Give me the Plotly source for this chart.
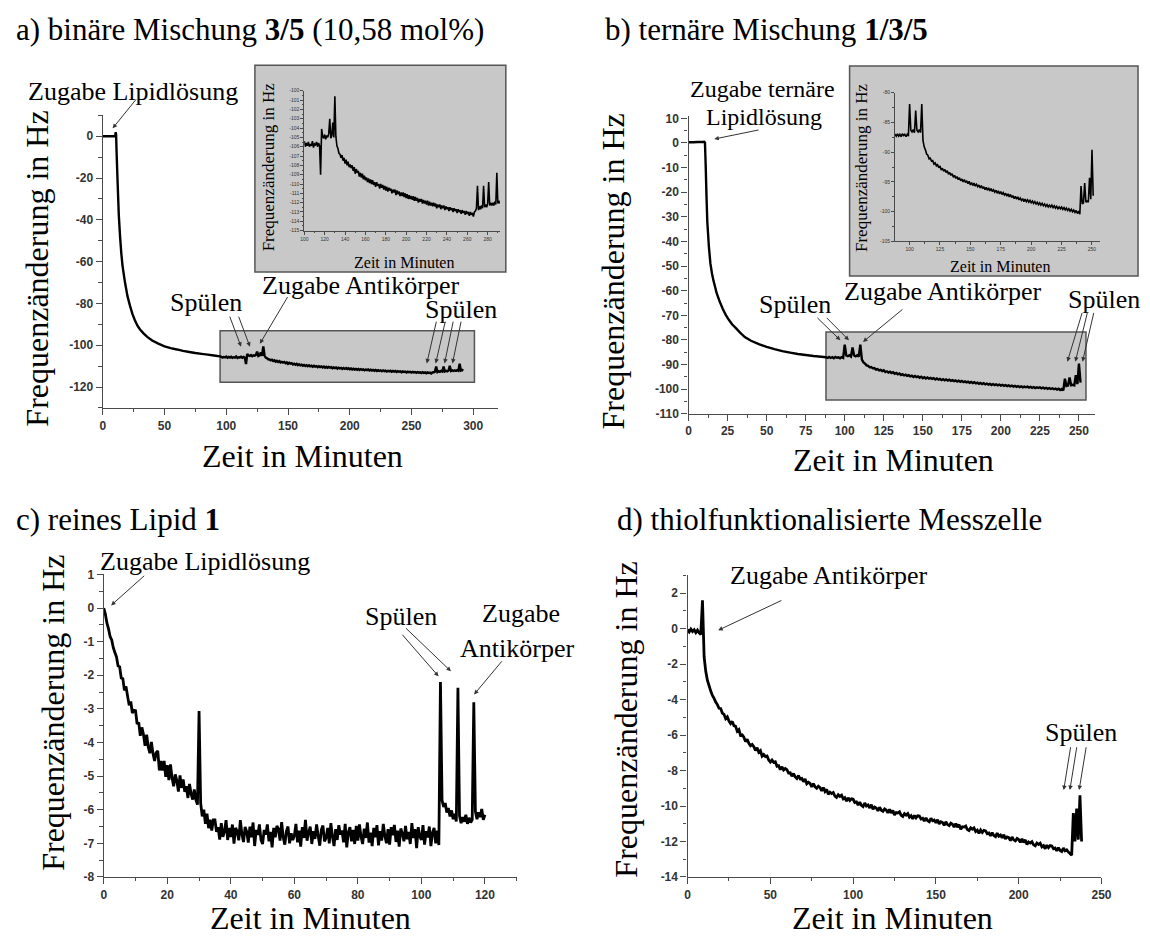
import plotly.graph_objects as go

W, H = 1150, 946

# ---------------- measured frequency traces ----------------
# a) binary mixture 3/5: coarse start, then one reading per minute from t = 96 min
A_T_START = [0, 2, 4, 6, 8, 10, 10.5, 10.8, 11.2, 12, 13, 14, 15, 16, 18, 20,
             22, 24, 26, 28, 30, 33, 36, 40, 45, 50, 55, 60, 65, 70, 75, 80, 85, 90, 95]
A_V_START = [0, 0, 0, 0, 0, 0, 2.0, 0.5, -8, -22, -38, -48, -56, -62, -70, -76.5,
             -81, -85, -88, -90.5, -92.3, -94.3, -96, -97.7, -99.2, -100.5, -101.4, -102,
             -102.7, -103.2, -103.7, -104.1, -104.5, -104.9, -105.3]
A_FINE_T0 = 96
A_V_FINE = [
    -105.5, -105.9, -105.6, -105.8, -105.4, -106.0, -105.6, -105.9, -105.5, -106.0,
    -105.7, -105.9, -105.4, -106.1, -105.7, -105.8, -105.5, -106.0, -105.6, -105.9,
    -109.0, -104.1, -104.9, -105.1, -104.7, -105.2, -104.8, -105.0, -104.6, -103.0,
    -105.1, -104.8, -103.4, -105.0, -100.6, -104.9, -105.9, -106.2, -106.7, -106.8,
    -107.2, -106.9, -107.5, -107.2, -107.8, -107.4, -108.0, -107.6, -108.2, -107.9,
    -108.3, -108.0, -108.6, -108.2, -108.9, -108.4, -108.8, -108.6, -109.2, -108.8,
    -109.3, -108.9, -109.5, -109.1, -109.6, -109.3, -109.8, -109.4, -109.9, -109.5,
    -110.0, -109.6, -110.1, -109.8, -110.3, -109.8, -110.2, -110.0, -110.5, -110.0,
    -110.4, -110.1, -110.6, -110.2, -110.7, -110.3, -110.8, -110.4, -110.7, -110.5,
    -111.0, -110.6, -110.9, -110.6, -111.2, -110.7, -111.1, -110.8, -111.3, -110.9,
    -111.3, -110.9, -111.4, -111.0, -111.5, -111.1, -111.6, -111.2, -111.6, -111.3,
    -111.7, -111.3, -111.8, -111.4, -111.8, -111.5, -112.0, -111.6, -111.9, -111.6,
    -112.1, -111.7, -112.1, -111.8, -112.2, -111.8, -112.3, -111.9, -112.3, -112.0,
    -112.4, -112.0, -112.4, -112.1, -112.6, -112.2, -112.5, -112.2, -112.7, -112.3,
    -112.6, -112.3, -112.8, -112.4, -112.7, -112.5, -112.9, -112.5, -112.8, -112.6,
    -113.0, -112.6, -112.9, -112.7, -113.1, -112.7, -113.0, -112.8, -113.2, -112.8,
    -113.1, -112.9, -113.3, -112.9, -113.2, -113.0, -113.4, -113.0, -113.3, -113.1,
    -113.5, -113.0, -112.9, -112.6, -110.2, -112.8, -112.4, -112.7, -112.3, -112.6,
    -110.2, -112.5, -112.2, -112.5, -112.1, -109.8, -112.3, -112.0, -112.3, -112.0,
    -112.3, -111.9, -112.2, -108.8, -112.1, -111.8, -112.1,
]

# b) ternary mixture 1/3/5: coarse start, then one reading per minute from t = 88 min
B_T_START = [0, 3, 6, 9, 10, 10.5, 11, 11.5, 12, 13, 14, 15, 16, 17, 18, 20, 22,
             24, 26, 28, 30, 33, 36, 40, 45, 50, 55, 60, 65, 70, 75, 80, 85]
B_V_START = [0.3, 0.3, 0.4, 0.4, 0.5, 0.2, -10, -22, -32, -42, -49, -53, -56, -58.5,
             -61, -64.5, -67.5, -70, -72, -73.7, -75, -77, -78.8, -80.3, -81.7, -82.8,
             -83.7, -84.5, -85.1, -85.7, -86.1, -86.5, -86.8]
B_FINE_T0 = 88
B_V_FINE = [
    -87.0, -87.3, -86.9, -87.3, -87.0, -87.4, -86.9, -87.2, -87.0, -87.4,
    -87.0, -87.3, -81.9, -86.3, -86.6, -86.2, -86.7, -83.0, -86.3, -86.6,
    -86.2, -86.7, -81.9, -88.0, -89.1, -89.6, -90.3, -90.5, -91.1, -91.0,
    -91.5, -91.4, -92.0, -91.8, -92.3, -92.1, -92.6, -92.3, -93.0, -92.7,
    -93.2, -92.9, -93.4, -93.1, -93.7, -93.4, -93.9, -93.6, -94.2, -93.9,
    -94.4, -94.1, -94.6, -94.3, -94.8, -94.5, -95.0, -94.6, -95.1, -94.8,
    -95.3, -94.9, -95.5, -95.1, -95.6, -95.2, -95.7, -95.4, -95.8, -95.5,
    -96.0, -95.6, -96.1, -95.8, -96.3, -95.9, -96.4, -96.0, -96.5, -96.1,
    -96.6, -96.3, -96.7, -96.4, -96.9, -96.5, -97.0, -96.6, -97.1, -96.8,
    -97.2, -96.9, -97.4, -97.0, -97.5, -97.1, -97.6, -97.3, -97.8, -97.4,
    -97.9, -97.5, -98.0, -97.7, -98.1, -97.8, -98.3, -97.9, -98.3, -98.0,
    -98.4, -98.1, -98.5, -98.2, -98.6, -98.3, -98.7, -98.4, -98.8, -98.5,
    -98.9, -98.6, -99.0, -98.7, -99.1, -98.8, -99.2, -98.9, -99.2, -98.9,
    -99.3, -99.0, -99.4, -99.1, -99.5, -99.2, -99.5, -99.2, -99.6, -99.3,
    -99.7, -99.4, -99.8, -99.5, -99.9, -99.6, -100.0, -99.7, -100.1, -99.8,
    -100.3, -99.9, -100.4, -95.7, -98.7, -98.5, -95.2, -98.4, -98.2, -98.4,
    -94.3, -97.9, -89.6, -97.3,
]

# c) pure lipid 1: one reading every half minute from t = 0
C_DT = 0.5
C_V = [
    0.0, -0.18, -0.45, -0.62, -0.85, -0.95, -1.18, -1.32, -1.45, -1.72,
    -1.75, -2.08, -2.10, -2.45, -2.33, -2.62, -2.89, -2.78, -3.12, -3.04,
    -3.05, -3.45, -3.40, -3.80, -3.55, -3.76, -4.10, -3.77, -4.13, -4.32,
    -3.98, -4.33, -4.55, -4.30, -4.25, -4.83, -4.55, -4.83, -4.55, -5.02,
    -4.67, -5.12, -4.65, -5.05, -5.30, -4.95, -5.13, -5.46, -4.98, -5.35,
    -5.10, -5.47, -5.30, -5.65, -5.23, -5.53, -5.70, -5.40, -5.70, -5.85,
    -3.06, -5.80, -6.20, -6.00, -6.42, -6.12, -6.55, -6.30, -6.62, -6.30,
    -6.30, -6.66, -6.52, -6.89, -6.40, -6.81, -6.65, -6.31, -6.90, -6.54,
    -6.81, -6.44, -7.01, -6.54, -6.64, -6.91, -6.31, -6.74, -6.96, -6.51,
    -6.65, -6.98, -6.50, -6.82, -6.38, -7.08, -6.60, -6.75, -6.44, -6.90,
    -7.02, -6.60, -6.74, -6.44, -6.94, -6.66, -7.12, -6.54, -6.82, -6.48,
    -6.57, -6.92, -6.37, -6.82, -7.04, -6.64, -6.50, -7.00, -6.70, -6.90,
    -6.77, -6.42, -6.97, -6.62, -7.10, -6.52, -6.84, -6.30, -6.92, -6.67,
    -6.50, -7.02, -6.64, -6.87, -6.44, -6.77, -7.07, -6.60, -6.47, -6.94,
    -6.84, -6.54, -7.00, -6.40, -6.80, -7.08, -6.58, -6.90, -6.46, -6.74,
    -6.62, -6.97, -6.42, -7.12, -6.67, -6.52, -6.94, -6.60, -7.02, -6.48,
    -6.92, -6.44, -6.80, -7.02, -6.56, -6.84, -6.38, -6.98, -6.68, -7.08,
    -6.54, -6.82, -6.46, -7.06, -6.64, -6.92, -6.42, -6.78, -7.00, -6.58,
    -7.04, -6.52, -6.76, -6.45, -6.96, -6.62, -7.10, -6.56, -6.70, -6.94,
    -6.48, -6.88, -6.66, -7.02, -6.40, -6.84, -6.58, -7.14, -6.52, -6.80,
    -6.90, -6.46, -7.04, -6.64, -6.82, -6.50, -7.08, -6.68, -6.54, -7.00,
    -6.62, -7.05, -2.20, -5.72, -5.92, -5.80, -6.08, -5.95, -6.20, -6.02,
    -6.28, -6.12, -6.35, -2.37, -6.18, -6.40, -6.22, -6.36, -6.15, -6.42,
    -6.24, -6.38, -6.30, -2.80, -6.05, -6.28, -6.08, -6.22, -5.98, -6.30,
    -6.15,
]

# d) thiol-functionalised cell: one reading per minute from t = 0
D_DT = 1.0
D_V = [
    -0.05, -0.18, -0.02, -0.16, -0.06, -0.22, -0.08, -0.24, -0.32, 1.60,
    -1.60, -2.42, -2.92, -3.22, -3.52, -3.77, -3.93, -4.14, -4.28, -4.49,
    -4.50, -4.76, -4.83, -5.07, -4.97, -5.21, -5.35, -5.23, -5.47, -5.51,
    -5.78, -5.69, -6.02, -5.99, -6.12, -6.37, -6.24, -6.47, -6.60, -6.53,
    -6.66, -6.87, -6.72, -6.97, -6.88, -7.19, -7.10, -7.21, -7.18, -7.41,
    -7.52, -7.41, -7.54, -7.51, -7.76, -7.73, -7.95, -7.79, -7.97, -7.89,
    -7.95, -8.14, -8.13, -8.32, -8.17, -8.36, -8.45, -8.28, -8.47, -8.44,
    -8.63, -8.48, -8.75, -8.66, -8.73, -8.92, -8.74, -8.92, -9.00, -8.88,
    -8.96, -9.14, -8.96, -9.18, -9.06, -9.34, -9.22, -9.30, -9.24, -9.44,
    -9.52, -9.37, -9.46, -9.39, -9.60, -9.53, -9.72, -9.54, -9.69, -9.59,
    -9.62, -9.80, -9.77, -9.95, -9.78, -9.96, -10.03, -9.83, -10.00, -9.94,
    -10.11, -9.93, -10.18, -10.06, -10.11, -10.27, -10.07, -10.24, -10.30, -10.17,
    -10.23, -10.39, -10.19, -10.39, -10.25, -10.51, -10.37, -10.39, -10.33, -10.53,
    -10.59, -10.43, -10.51, -10.43, -10.63, -10.55, -10.73, -10.53, -10.67, -10.55,
    -10.57, -10.73, -10.69, -10.85, -10.67, -10.83, -10.89, -10.69, -10.83, -10.79,
    -10.95, -10.77, -11.01, -10.89, -10.93, -11.09, -10.89, -11.05, -11.11, -10.97,
    -11.03, -11.19, -10.99, -11.19, -11.05, -11.31, -11.17, -11.19, -11.13, -11.33,
    -11.39, -11.23, -11.31, -11.24, -11.44, -11.36, -11.54, -11.35, -11.49, -11.37,
    -11.40, -11.56, -11.52, -11.68, -11.51, -11.67, -11.73, -11.53, -11.70, -11.64,
    -11.80, -11.62, -11.86, -11.74, -11.78, -11.95, -11.75, -11.91, -11.97, -11.83,
    -11.89, -12.05, -11.85, -12.05, -11.91, -12.17, -12.03, -12.09, -12.01, -12.19,
    -12.25, -12.09, -12.17, -12.10, -12.30, -12.23, -12.41, -12.21, -12.35, -12.23,
    -12.25, -12.41, -12.37, -12.53, -12.35, -12.51, -12.57, -12.37, -12.53, -12.47,
    -12.60, -12.68, -12.78, -10.40, -12.00, -10.15, -11.90, -9.40, -12.00,
]

# tick positions per axis
A_XTICKS = [0, 50, 100, 150, 200, 250, 300]
A_YTICKS = [-120, -100, -80, -60, -40, -20, 0]
AI_XTICKS = [100, 120, 140, 160, 180, 200, 220, 240, 260, 280]
AI_YTICKS = [-115, -114, -113, -112, -111, -110, -109, -108, -107, -106, -105,
             -104, -103, -102, -101, -100]
B_XTICKS = [0, 25, 50, 75, 100, 125, 150, 175, 200, 225, 250]
B_YTICKS = [-110, -100, -90, -80, -70, -60, -50, -40, -30, -20, -10, 0, 10]
BI_XTICKS = [100, 125, 150, 175, 200, 225, 250]
BI_YTICKS = [-105, -100, -95, -90, -85, -80]
C_XTICKS = [0, 20, 40, 60, 80, 100, 120]
C_YTICKS = [-8, -7, -6, -5, -4, -3, -2, -1, 0, 1]
D_XTICKS = [0, 50, 100, 150, 200, 250]
D_YTICKS = [-14, -12, -10, -8, -6, -4, -2, 0, 2]

# ---------------- assemble time axes ----------------
A_T = A_T_START + [A_FINE_T0 + i for i in range(len(A_V_FINE))]
A_V = A_V_START + A_V_FINE
B_T = B_T_START + [B_FINE_T0 + i for i in range(len(B_V_FINE))]
B_V = B_V_START + B_V_FINE
C_T = [i * C_DT for i in range(len(C_V))]
D_T = [i * D_DT for i in range(len(D_V))]

SERIF = "Liberation Serif"
SANS = "Liberation Sans"
AXIS_GREY = "#4a4a4a"


def px_x(p):
    return p / W


def px_y(p):
    return 1 - p / H


def labels(vals):
    return [f"{v:g}" for v in vals]


def axis(dom, rng, ticks, minor_dtick, anchor, size=12, ticklen=6, lw=1.4, bold=True):
    return dict(
        domain=dom, range=rng, anchor=anchor,
        tickmode="array", tickvals=ticks, ticktext=labels(ticks),
        showline=True, linecolor=AXIS_GREY, linewidth=lw,
        ticks="outside", ticklen=ticklen, tickwidth=1.1, tickcolor=AXIS_GREY,
        minor=dict(dtick=minor_dtick, ticks="outside", ticklen=ticklen * 0.55,
                   tickwidth=1, tickcolor=AXIS_GREY),
        showgrid=False, zeroline=False, fixedrange=True,
        tickfont=dict(family=SANS, size=size, color="#333",
                      weight="bold" if bold else "normal"),
    )


fig = go.Figure()

line_main = dict(color="black", width=2.4, simplify=False)
line_inset = dict(color="black", width=1.6, simplify=False)

fig.add_trace(go.Scatter(x=A_T, y=A_V, xaxis="x", yaxis="y", mode="lines", line=line_main))
fig.add_trace(go.Scatter(x=A_T, y=A_V, xaxis="x2", yaxis="y2", mode="lines", line=line_inset))
fig.add_trace(go.Scatter(x=B_T, y=B_V, xaxis="x3", yaxis="y3", mode="lines", line=line_main))
fig.add_trace(go.Scatter(x=B_T, y=B_V, xaxis="x4", yaxis="y4", mode="lines", line=line_inset))
fig.add_trace(go.Scatter(x=C_T, y=C_V, xaxis="x5", yaxis="y5", mode="lines",
                         line=dict(color="black", width=2.8, simplify=False)))
fig.add_trace(go.Scatter(x=D_T, y=D_V, xaxis="x6", yaxis="y6", mode="lines",
                         line=dict(color="black", width=2.8, simplify=False)))

fig.update_layout(
    width=W, height=H, margin=dict(l=0, r=0, t=0, b=0),
    paper_bgcolor="white", plot_bgcolor="rgba(0,0,0,0)", showlegend=False,
    # a) main + inset
    xaxis=axis([px_x(100), px_x(500)], [0, 320], A_XTICKS, 25, "y"),
    yaxis=axis([px_y(407), px_y(110)], [-130, 10], A_YTICKS, 10, "x"),
    xaxis2=axis([px_x(304), px_x(502)], [100, 292], AI_XTICKS, 10, "y2",
                size=5, ticklen=3, lw=1, bold=False),
    yaxis2=axis([px_y(227), px_y(85)], [-115, -100], AI_YTICKS, 0.5, "x2",
                size=5, ticklen=3, lw=1, bold=False),
    # b) main + inset
    xaxis3=axis([px_x(693), px_x(1104)], [0, 260], B_XTICKS, 12.5, "y3"),
    yaxis3=axis([px_y(413), px_y(111)], [-110, 10.8], B_YTICKS, 5, "x3"),
    xaxis4=axis([px_x(902), px_x(1110)], [88, 257], BI_XTICKS, 12.5, "y4",
                size=5, ticklen=3, lw=1, bold=False),
    yaxis4=axis([px_y(238), px_y(87)], [-105, -80], BI_YTICKS, 2.5, "x4",
                size=5, ticklen=3, lw=1, bold=False),
    # c)
    xaxis5=axis([px_x(101), px_x(519)], [0, 130], C_XTICKS, 10, "y5"),
    yaxis5=axis([px_y(883), px_y(576)], [-8, 1], C_YTICKS, 0.5, "x5"),
    # d)
    xaxis6=axis([px_x(692), px_x(1111)], [0, 250], D_XTICKS, 25, "y6"),
    yaxis6=axis([px_y(883), px_y(577)], [-14, 3], D_YTICKS, 1, "x6"),
)

# ---------------- shaded regions and inset frames ----------------
GREY_FILL = "#c8c8c8"
FRAME = dict(color="#555", width=1.5)
fig.update_layout(shapes=[
    dict(type="rect", xref="x", yref="y", x0=95, x1=301, y0=-117.7, y1=-93,
         fillcolor=GREY_FILL, line=FRAME, layer="below"),
    dict(type="rect", xref="x3", yref="y3", x0=88, x1=254.5, y0=-104.4, y1=-76.8,
         fillcolor=GREY_FILL, line=FRAME, layer="below"),
    dict(type="rect", xref="paper", yref="paper", x0=px_x(254), x1=px_x(508),
         y0=px_y(269), y1=px_y(59), fillcolor=GREY_FILL, line=FRAME, layer="below"),
    dict(type="rect", xref="paper", yref="paper", x0=px_x(856), x1=px_x(1148),
         y0=px_y(273), y1=px_y(60), fillcolor=GREY_FILL, line=FRAME, layer="below"),
])


def to_paper(xref, yref, x, y):
    """Map data coordinates of one subplot to paper coordinates."""
    xa = fig.layout["xaxis" + xref[1:]]
    ya = fig.layout["yaxis" + yref[1:]]
    px = xa.domain[0] + (x - xa.range[0]) / (xa.range[1] - xa.range[0]) * (xa.domain[1] - xa.domain[0])
    py = ya.domain[0] + (y - ya.range[0]) / (ya.range[1] - ya.range[0]) * (ya.domain[1] - ya.domain[0])
    return px, py


# ---------------- text ----------------
ann = []
NOTE = 26


def text(x, y, s, size=NOTE, angle=0, xanchor="center"):
    ann.append(dict(x=x, y=y, xref="paper", yref="paper", text=s, showarrow=False,
                    textangle=angle, xanchor=xanchor, yanchor="middle",
                    font=dict(family=SERIF, size=size, color="black")))


def label(xref, yref, x, y, s, size=NOTE):
    px, py = to_paper(xref, yref, x, y)
    text(px, py, s, size=size)


def arrow(xref, yref, head, tail):
    ann.append(dict(x=head[0], y=head[1], xref=xref, yref=yref,
                    ax=tail[0], ay=tail[1], axref=xref, ayref=yref,
                    text="", showarrow=True, arrowhead=2, arrowsize=0.9,
                    arrowwidth=1, arrowcolor="#333"))


# panel titles
text(px_x(10), px_y(23), "a) binäre Mischung <b>3/5</b> (10,58 mol%)", size=31, xanchor="left")
text(px_x(606), px_y(23), "b) ternäre Mischung <b>1/3/5</b>", size=31, xanchor="left")
text(px_x(10), px_y(520), "c) reines Lipid <b>1</b>", size=31, xanchor="left")
text(px_x(619), px_y(520), "d) thiolfunktionalisierte Messzelle", size=31, xanchor="left")

# axis titles of the four main plots
XT, YT = "Zeit in Minuten", "Frequenzänderung in Hz"
text(px_x(302), px_y(456), XT, size=32)
text(px_x(33), px_y(266), YT, size=32, angle=-90)
text(px_x(900), px_y(460), XT, size=32)
text(px_x(617), px_y(268), YT, size=32, angle=-90)
text(px_x(310), px_y(925), XT, size=32)
text(px_x(50), px_y(716), YT, size=32, angle=-90)
text(px_x(899), px_y(925), XT, size=32)
text(px_x(630), px_y(723), YT, size=32, angle=-90)

# inset axis titles
text(px_x(405), px_y(259), XT, size=16)
text(px_x(268), px_y(162), YT, size=17, angle=-90)
text(px_x(1008), px_y(263), XT, size=16)
text(px_x(868), px_y(163), YT, size=17, angle=-90)

# a) event labels
label("x", "y", 24.4, 21.6, "Zugabe Lipidlösung")
arrow("x", "y", (8, 3.8), (28, 18.4))
label("x", "y", 83.2, -79.5, "Spülen")
arrow("x", "y", (112, -100.7), (102.4, -85.6))
arrow("x", "y", (119.2, -100.7), (109.6, -85.6))
label("x", "y", 208.8, -71.5, "Zugabe Antikörper")
arrow("x", "y", (127.2, -99.3), (150.4, -76.2))
label("x", "y", 290.4, -82.8, "Spülen")
for h, t in [(262.4, 270.4), (269.6, 277.6), (276.8, 284), (283.2, 290.4)]:
    arrow("x", "y", (h, -108.7), (t, -88))

# b) event labels
label("x3", "y3", 47.5, 22.0, "Zugabe ternäre", size=24)
label("x3", "y3", 48, 10.4, "Lipidlösung", size=24)
arrow("x3", "y3", (16.5, 1.6), (45.8, 5.4))
label("x3", "y3", 68, -65.7, "Spülen")
arrow("x3", "y3", (97.2, -80.1), (81.5, -70.4))
arrow("x3", "y3", (102.7, -80.1), (87.5, -70.4))
label("x3", "y3", 162.5, -60.4, "Zugabe Antikörper")
arrow("x3", "y3", (111.7, -80.8), (137.9, -67.1))
label("x3", "y3", 266, -63.7, "Spülen")
for h, t in [(242.6, 252.3), (247.7, 255.6), (252.3, 259.7)]:
    arrow("x3", "y3", (h, -88.8), (t, -68.4))

# c) event labels
label("x5", "y5", 32, 1.38, "Zugabe Lipidlösung")
arrow("x5", "y5", (2.3, 0.08), (13.2, 1.0))
label("x5", "y5", 93.6, -0.26, "Spülen")
arrow("x5", "y5", (105.4, -2.03), (93.6, -0.75))
arrow("x5", "y5", (109.3, -1.88), (94.7, -0.56))
label("x5", "y5", 131.5, -0.17, "Zugabe")
label("x5", "y5", 130, -1.19, "Antikörper")
arrow("x5", "y5", (116.6, -2.57), (125.7, -1.54))

# d) event labels
label("x6", "y6", 85.2, 3.02, "Zugabe Antikörper")
arrow("x6", "y6", (18.5, -0.09), (57.6, 1.63))
label("x6", "y6", 237.4, -5.86, "Spülen")
for h, t in [(227.2, 231.5), (230.9, 235.2), (236.5, 240.9)]:
    arrow("x6", "y6", (h, -9.1), (t, -6.6))

fig.update_layout(annotations=ann)
fig.write_html("out.html")
